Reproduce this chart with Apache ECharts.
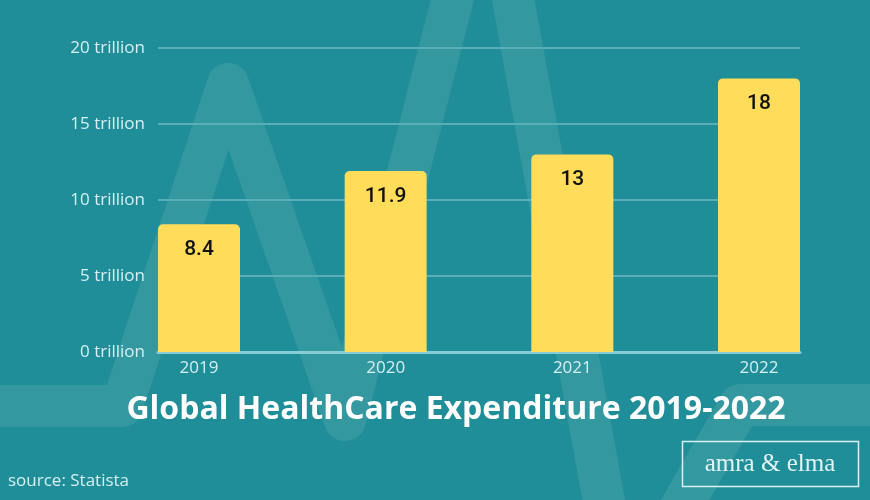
<!DOCTYPE html>
<html>
<head>
<meta charset="utf-8">
<script src="https://cdn.jsdelivr.net/npm/echarts@6/dist/echarts.min.js"></script>
<style>html,body{margin:0;padding:0;background:#208e98;}#c{width:870px;height:500px;}</style>
</head>
<body>
<div id="c"></div>
<script>
const years = ['2019', '2020', '2021', '2022'];
const spending = [8.4, 11.9, 13, 18];
const yTicks = [0, 5, 10, 15, 20];
const titleText = 'Global HealthCare Expenditure 2019-2022';
const sourceText = 'source: Statista';
const brandText = 'amra & elma';

const chart = echarts.init(document.getElementById('c'));
const labelColor = '#d6eff2';
chart.setOption({
  backgroundColor: '#208e98',
  animation: false,
  graphic: [
    {
      type: 'polyline', z: -10, silent: true,
      shape: { points: [[-30,406],[122,406],[228,84],[345,420],[488,-140],[623,607],[740,405],[900,405]] },
      style: { stroke: 'rgba(255,255,255,0.09)', lineWidth: 42, lineJoin: 'round', lineCap: 'round', fill: null }
    },
    {
      type: 'text', z: 10, x: 456, y: 410,
      style: { text: titleText, fill: '#ffffff', font: 'bold 32px "Open Sans"', align: 'center', verticalAlign: 'middle' }
    },
    {
      type: 'text', z: 10, x: 8, y: 481,
      style: { text: sourceText, fill: labelColor, font: '17px "Open Sans"', align: 'left', verticalAlign: 'middle' }
    },
    {
      type: 'rect', z: 10,
      shape: { x: 682.5, y: 441.5, width: 176, height: 45 },
      style: { fill: null, stroke: '#d9f1f3', lineWidth: 1.5 }
    },
    {
      type: 'text', z: 10, x: 770, y: 464,
      style: { text: brandText, fill: '#e2f4f5', font: '25px "Liberation Serif"', align: 'center', verticalAlign: 'middle' }
    }
  ],
  grid: [
    { left: 158, right: 70, top: 48, bottom: 148 },
    { left: 105.67, right: 17.67, top: 48, bottom: 148 }
  ],
  xAxis: [
    {
      type: 'category', gridIndex: 0, data: years,
      axisLabel: { show: false }, axisTick: { show: false },
      axisLine: { show: true, lineStyle: { color: '#86cdd6', width: 3 } },
      splitLine: { show: false }
    },
    {
      type: 'category', gridIndex: 1, data: years,
      axisLine: { show: false }, axisTick: { show: false }, splitLine: { show: false },
      axisLabel: { color: labelColor, fontFamily: 'Open Sans', fontSize: 17, margin: 8 }
    }
  ],
  yAxis: [
    {
      type: 'value', gridIndex: 0, min: yTicks[0], max: yTicks[yTicks.length - 1], interval: yTicks[1] - yTicks[0],
      axisLine: { show: false }, axisTick: { show: false },
      axisLabel: { color: labelColor, fontFamily: 'Open Sans', fontSize: 17, margin: 13, formatter: '{value} trillion' },
      splitLine: { lineStyle: { color: '#5aaeb7', width: 2 } }
    },
    {
      type: 'value', gridIndex: 1, min: yTicks[0], max: yTicks[yTicks.length - 1], interval: yTicks[1] - yTicks[0],
      show: false, splitLine: { show: false }
    }
  ],
  series: [{
    type: 'bar', xAxisIndex: 1, yAxisIndex: 1, data: spending, barWidth: 82,
    itemStyle: { color: '#ffdc5a', borderRadius: [5, 5, 0, 0] },
    label: {
      show: true, position: 'insideTop', distance: 15, color: '#111111',
      fontFamily: 'Roboto', fontWeight: 500, fontSize: 21
    }
  }]
});
</script>
</body>
</html>
